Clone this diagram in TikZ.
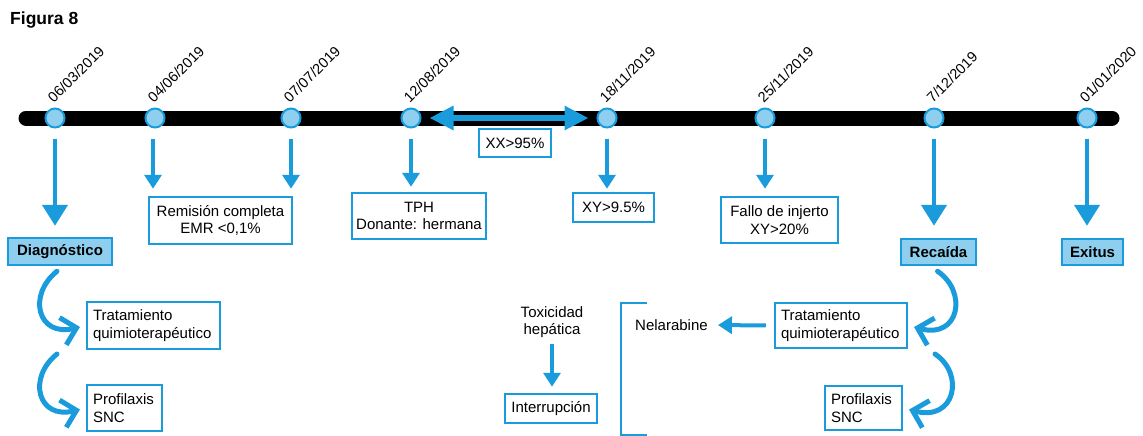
\documentclass[tikz,border=0pt]{standalone}
\usepackage{fontspec}
\setmainfont{Liberation Sans}
\usetikzlibrary{arrows.meta,calc}
\definecolor{bl}{HTML}{1A9BDB}
\definecolor{lb}{HTML}{8ECFEF}
\newcommand\fsz{\fontsize{15}{17.5}\selectfont}
\newcommand\fdate{\fontsize{14.5}{17}\selectfont}
\tikzset{
  dot/.style={circle, draw=bl, fill=lb, line width=2pt, minimum size=19pt, inner sep=0},
  datelbl/.style={rotate=45, anchor=south west, inner sep=0, font=\fdate},
  box/.style 2 args={draw=bl, line width=2.5pt, inner sep=0, minimum width=#1, minimum height=#2, align=center, font=\fsz},
  lbox/.style 2 args={box={#1}{#2}, align=left, text width=#1-12pt},
  hbox/.style 2 args={box={#1}{#2}, fill=lb, font=\fsz\bfseries},
  bigarr/.style={draw=bl, line width=4.5pt, -{Triangle[length=21pt,width=25pt]}},
  smallarr/.style={draw=bl, line width=4pt, -{Triangle[length=14pt,width=17pt]}},
  dblarr/.style={draw=bl, line width=6pt, {Triangle[length=24pt,width=23pt]}-{Triangle[length=24pt,width=23pt]}},
  curvearr/.style={draw=bl, line width=5pt, line cap=round, -{Straight Barb[length=14pt,width=28pt,line width=5pt]}},
  txt/.style={inner sep=0, font=\fsz, align=center}
}
\begin{document}
\begin{tikzpicture}[x=1pt,y=-1pt]
\useasboundingbox (0,0) rectangle (1143,436);
% title
\node[anchor=base west, inner sep=0, font=\fontsize{17.5}{20}\selectfont\bfseries] (title) at (10,25) {Figura 8};
% timeline
\coordinate (tl) at (26,118);
\coordinate (tr) at (1112,118);
\draw[line width=15pt, line cap=round] (tl) -- (tr);
% dots
\foreach \n/\x in {1/55,2/155,3/291,4/411,5/607,6/765,7/934,8/1087}
  \node[dot] (c\n) at (\x,118) {};
% dates
\node[datelbl] (d1) at ($(c1)+(-1,-14)$) {06/03/2019};
\node[datelbl] (d2) at ($(c2)+(-1,-14)$) {04/06/2019};
\node[datelbl] (d3) at ($(c3)+(-1,-14)$) {07/07/2019};
\node[datelbl] (d4) at ($(c4)+(-1,-14)$) {12/08/2019};
\node[datelbl] (d5) at ($(c5)+(-1,-14)$) {18/11/2019};
\node[datelbl] (d6) at ($(c6)+(-1,-14)$) {25/11/2019};
\node[datelbl] (d7) at ($(c7)+(-1,-14)$) {7/12/2019};
\node[datelbl] (d8) at ($(c8)+(-1,-14)$) {01/01/2020};
% double arrow
\draw[dblarr, shorten <=8pt, shorten >=8pt] (c4.east) -- (c5.west);
\node[box={72pt}{28pt}] (xx) at (515,143) {XX>95\%};
% boxes
\node[box={143pt}{47pt}] (rem) at (220.5,220.5) {Remisión completa\\EMR <0,1\%};
\node[box={134pt}{46pt}] (tph) at (419,216) {TPH\\Donante: hermana};
\node[box={81pt}{29pt}] (xy) at (613.5,207.5) {XY>9.5\%};
\node[box={117pt}{46pt}] (fallo) at (779.5,220) {Fallo de injerto\\XY>20\%};
\node[hbox={104pt}{27pt}] (diag) at (60,251.5) {Diagnóstico};
\node[hbox={75pt}{26pt}] (rec) at (938.5,252) {Recaída};
\node[hbox={61pt}{26pt}] (exit) at (1092.5,252) {Exitus};
\node[lbox={133pt}{47pt}] (trat1) at (153.5,325.5) {Tratamiento\\quimioterapéutico};
\node[lbox={75pt}{46pt}] (prof1) at (124.5,408) {Profilaxis\\SNC};
\node[lbox={132pt}{45pt}] (trat2) at (841,325.5) {Tratamiento\\quimioterapéutico};
\node[lbox={77pt}{44pt}] (prof2) at (863.5,408) {Profilaxis\\SNC};
\node[box={92pt}{29pt}] (interr) at (551,408.5) {Interrupción};
\node[txt] (tox) at (552,322) {Toxicidad\\hepática};
\node[txt, anchor=west] (nel) at (635,325) {Nelarabine};
% vertical arrows
\draw[bigarr, shorten <=10pt, shorten >=11pt] (c1) -- (c1 |- diag.north);
\draw[smallarr, shorten <=10pt, shorten >=7pt] ([xshift=-2pt]c2.south) -- ([xshift=-2pt]c2 |- rem.north);
\draw[smallarr, shorten <=10pt, shorten >=7pt] (c3) -- (c3 |- rem.north);
\draw[smallarr, shorten <=10pt, shorten >=5pt] (c4) -- (c4 |- tph.north);
\draw[smallarr, shorten <=10pt, shorten >=3pt] (c5) -- (c5 |- xy.north);
\draw[smallarr, shorten <=10pt, shorten >=7pt] (c6) -- (c6 |- fallo.north);
\draw[bigarr, shorten <=10pt, shorten >=12pt] (c7) -- (c7 |- rec.north);
\draw[bigarr, shorten <=10pt, shorten >=12pt] (c8) -- (c8 |- exit.north);
% lower arrows
\draw[smallarr, shorten <=8pt, shorten >=10pt] (trat2.west) -- (nel.east);
\draw[smallarr, shorten <=6pt, shorten >=6pt] (tox.south) -- (tox.south |- interr.north);
% bracket
\draw[draw=bl, line width=2.5pt] (647,303) -- (621,303) -- (621,435) -- (647,435);
% curved arrows
\coordinate (s2) at (57,354);
\coordinate (s4) at (935,354);
\draw[curvearr, shorten >=6pt] ([xshift=-3pt,yshift=-5pt]diag.south) .. controls +(-30,24) and +(-48,12) .. (trat1.west);
\draw[curvearr, shorten >=6pt] (s2) .. controls +(-30,24) and +(-48,12) .. (prof1.west);
\draw[curvearr, shorten >=6pt] ([xshift=-1pt,yshift=-5pt]rec.south) .. controls +(30,20) and +(52,14) .. (trat2.east);
\draw[curvearr, shorten >=6pt] (s4) .. controls +(30,20) and +(52,14) .. (prof2.east);
\end{tikzpicture}
\end{document}
